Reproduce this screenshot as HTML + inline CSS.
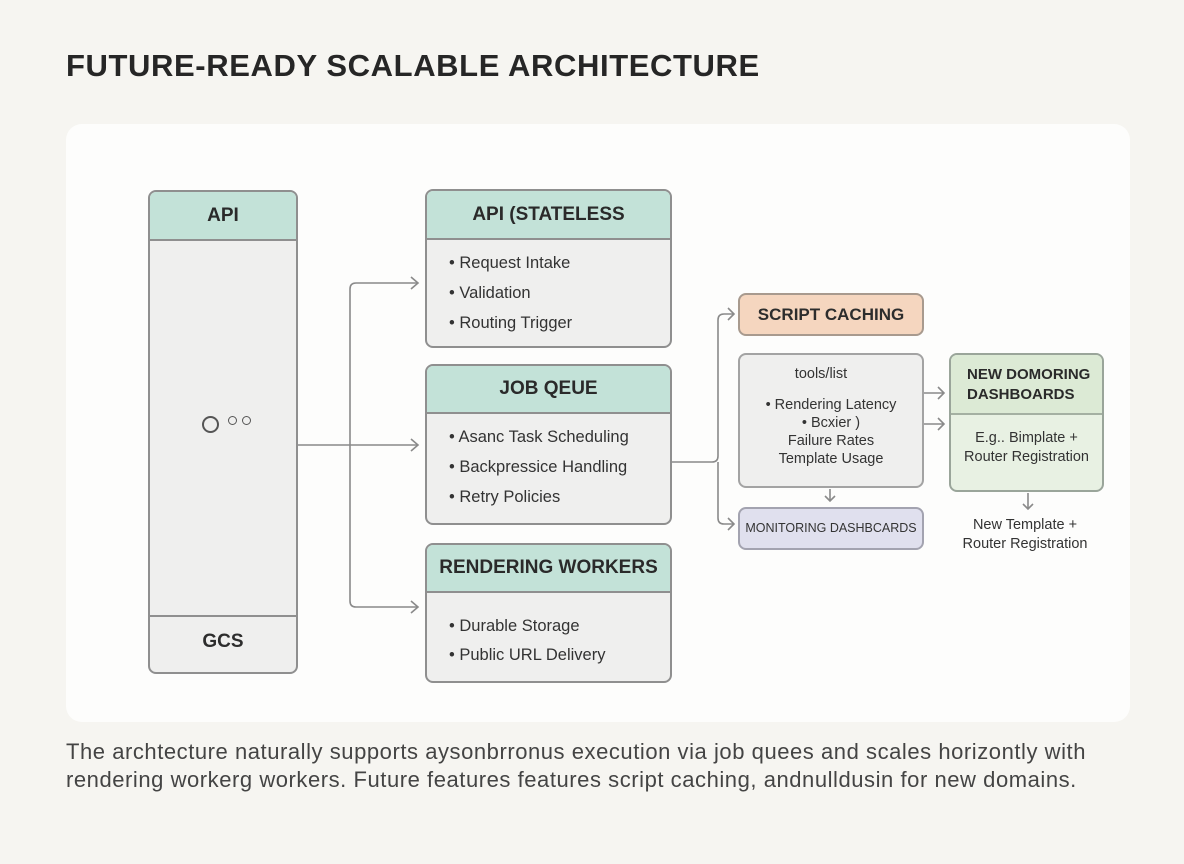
<!DOCTYPE html>
<html><head><meta charset="utf-8"><style>
*{box-sizing:border-box;margin:0;padding:0}
body{width:1184px;height:864px;background:#f6f5f1;font-family:"Liberation Sans",sans-serif;color:#2d2d2d;position:relative;overflow:hidden}
.a{position:absolute}
.title{left:66px;top:48px;font-size:31px;font-weight:bold;color:#262626;letter-spacing:0.6px}
.card{left:66px;top:124px;width:1064px;height:598px;background:#fdfdfc;border-radius:16px}
.box{position:absolute;border:2px solid #8f8f8f;border-radius:8px;background:#efefee;overflow:hidden}
.hd{background:#c3e2d8;border-bottom:2px solid #8f8f8f;font-weight:bold;font-size:19px;text-align:center;color:#2a2a2a}
.li{font-size:16.5px;color:#333;position:absolute;left:22px}
.c{text-align:center;color:#333}
.foot{left:66px;top:738px;font-size:22px;color:#444;line-height:28px;letter-spacing:0.55px;white-space:nowrap}
</style></head><body>
<div class="a title">FUTURE-READY SCALABLE ARCHITECTURE</div>
<div class="a card"></div>

<div class="box" style="left:148px;top:190px;width:150px;height:484px">
 <div class="hd" style="height:49px;line-height:47px">API</div>
 <div style="position:absolute;left:0;right:0;top:423px;border-top:2px solid #8f8f8f;height:60px;line-height:50px;text-align:center;font-weight:bold;font-size:19px">GCS</div>
</div>

<div class="box" style="left:425px;top:189px;width:247px;height:159px">
 <div class="hd" style="height:49px;line-height:47px">API (STATELESS</div>
 <div class="li" style="top:63px">• Request Intake</div>
 <div class="li" style="top:93px">• Validation</div>
 <div class="li" style="top:123px">• Routing Trigger</div>
</div>
<div class="box" style="left:425px;top:364px;width:247px;height:161px">
 <div class="hd" style="height:48px;line-height:46px">JOB QEUE</div>
 <div class="li" style="top:62px">• Asanc Task Scheduling</div>
 <div class="li" style="top:92px">• Backpressice Handling</div>
 <div class="li" style="top:122px">• Retry Policies</div>
</div>
<div class="box" style="left:425px;top:543px;width:247px;height:140px">
 <div class="hd" style="height:48px;line-height:46px">RENDERING WORKERS</div>
 <div class="li" style="top:72px">• Durable Storage</div>
 <div class="li" style="top:101px">• Public URL Delivery</div>
</div>

<div class="box" style="left:738px;top:293px;width:186px;height:43px;background:#f5d6bf;border-color:#a89a8e;text-align:center;line-height:39px;font-weight:bold;font-size:17px">SCRIPT CACHING</div>
<div class="box c" style="left:738px;top:353px;width:186px;height:135px;border-color:#a3a3a3;font-size:14.5px">
 <div style="position:absolute;left:0;right:0;top:11px;padding-right:20px">tools/list</div>
 <div style="position:absolute;left:0;right:0;top:41px;line-height:18px">• Rendering Latency<br>• Bcxier )<br>Failure Rates<br>Template Usage</div>
</div>
<div class="box" style="left:738px;top:507px;width:186px;height:43px;background:#e0e0ee;border-color:#a3a3b0;text-align:center;line-height:39px;font-size:12.5px;color:#333">MONITORING DASHBCARDS</div>
<div class="box" style="left:949px;top:353px;width:155px;height:139px;background:#e8f1e3;border-color:#9aa59a">
 <div style="height:60px;background:#dcead5;border-bottom:2px solid #a4b0a2;font-weight:bold;font-size:15px;line-height:20px;padding:10px 0 0 16px;color:#2a2a2a">NEW DOMORING<br>DASHBOARDS</div>
 <div class="c" style="font-size:14.5px;line-height:19px;margin-top:14px">E.g.. Bimplate +<br>Router Registration</div>
</div>
<div class="a c" style="left:940px;top:516px;width:170px;font-size:14.5px;line-height:19px">New Template +<br>Router Registration</div>

<div class="a" style="left:202px;top:416px;width:17px;height:17px;border:2px solid #555;border-radius:50%"></div>
<div class="a" style="left:228px;top:416px;width:9px;height:9px;border:1.5px solid #555;border-radius:50%"></div>
<div class="a" style="left:242px;top:416px;width:9px;height:9px;border:1.5px solid #555;border-radius:50%"></div>

<svg class="a" style="left:0;top:0" width="1184" height="864" fill="none" stroke="#8a8a8a" stroke-width="1.6">
 <path d="M298 445H418"/>
 <path d="M418 283H356Q350 283 350 289V601Q350 607 356 607H418"/>
 <path d="M411 277L418 283L411 289M411 439L418 445L411 451M411 601L418 607L411 613"/>
 <path d="M672 462H712Q718 462 718 456V320Q718 314 724 314H734M718 462V518Q718 524 724 524H734"/>
 <path d="M728 308L734 314L728 320M728 518L734 524L728 530"/>
 <path d="M924 393H944M924 424H944M938 387L944 393L938 399M938 418L944 424L938 430"/>
 <path d="M830 489V501M825 496L830 501L835 496M1028 493V509M1023 504L1028 509L1033 504"/>
</svg>

<div class="a foot">The archtecture naturally supports aysonbrronus execution via job quees and scales horizontly with<br>rendering workerg workers. Future features features script caching, andnulldusin for new domains.</div>
</body></html>
